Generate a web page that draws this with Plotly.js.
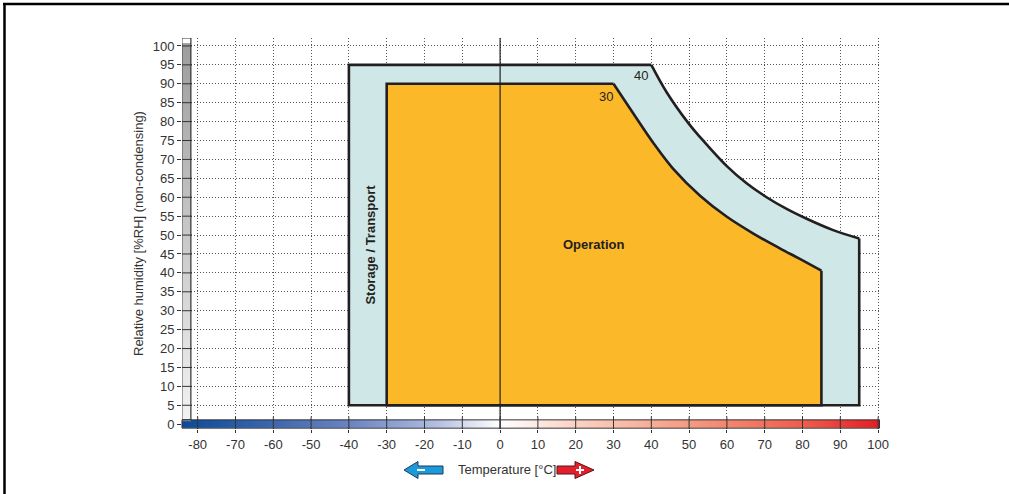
<!DOCTYPE html>
<html>
<head>
<meta charset="utf-8">
<script src="https://cdn.plot.ly/plotly-3.0.1.min.js"></script>
<style>html,body{margin:0;padding:0;background:#fff;}#chart{width:1009px;height:494px;}</style>
</head>
<body>
<div id="chart"></div>
<script>
// ---- data ----
const tempTicks = [-80,-70,-60,-50,-40,-30,-20,-10,0,10,20,30,40,50,60,70,80,90,100];
const rhTicks = [0,5,10,15,20,25,30,35,40,45,50,55,60,65,70,75,80,85,90,95,100];
// Storage / Transport envelope: straight edges then humidity limit curve
const storageEdgeT  = [95,95,-40,-40,40];
const storageEdgeRH = [49.1,5,5,95,95];
const storageCurveT  = [40,44.1,49.8,52.9,59.9,65.2,70.5,75.8,81.1,88.1,95];
const storageCurveRH = [95,87.7,79.6,75.9,68.3,63.7,60.0,56.9,54.3,51.3,49.1];
// Operation envelope
const operationEdgeT  = [85,85,-30,-30,30];
const operationEdgeRH = [40.6,5,5,90,90];
const operationCurveT  = [30,35.2,40.5,45.8,52.9,59.9,67.0,74.0,79.3,85];
const operationCurveRH = [90,82.2,74.4,67.5,60.4,54.9,50.4,46.5,43.7,40.6];
const labels = {storage:"Storage / Transport", operation:"Operation", storageMax:"40", operationMax:"30"};
const xTitle = "Temperature [°C]";
const yTitle = "Relative humidity [%RH] (non-condensing)";

// ---- layout geometry ----
const W=1009,H=494, M={l:182,r:129,t:38,b:65};
const PW=W-M.l-M.r, PH=H-M.t-M.b;
const xRange=[-84.15,100.5], yRange=[-1.27,102.1];
const px=(p)=>(p-M.l)/PW, py=(p)=>1-(p-M.t)/PH;
const FONT="Liberation Sans, Arial, sans-serif";
const INK="#231f20";

// colour bar (temperature gradient) as heatmap
const cbX=[]; for(let t=-84;t<=100;t+=2) cbX.push(t);
const cbZ=[cbX.slice(),cbX.slice()];
const norm=(t)=>(t-xRange[0])/(xRange[1]-xRange[0]);
const tempScale=[[0,"#0b4a9b"],[norm(-60),"#3d67b0"],[norm(-40),"#6a84c2"],[norm(-20),"#a5b4dc"],[norm(0),"#ffffff"],[norm(20),"#fcd2c3"],[norm(50),"#f59a80"],[norm(80),"#ef5d4c"],[1,"#e41b23"]];

// gray humidity bar as heatmap
const gbY=[]; for(let v=2;v<=101.5;v+=2.5) gbY.push(v);
const gbZ=gbY.map(v=>[v,v]);

const fillPoly=(eT,eRH,cT,cRH,color)=>({type:"scatter",mode:"lines",x:eT.concat(cT.slice(1)),y:eRH.concat(cRH.slice(1)),
  fill:"toself",fillcolor:color,line:{width:0,color:color},hoverinfo:"skip"});
const outline=(x,y,shape)=>({type:"scatter",mode:"lines",x:x,y:y,line:{color:INK,width:2.6,shape:shape,smoothing:1},hoverinfo:"skip"});

const traces=[
 {type:"heatmap",x:cbX,y:[-0.5,0.6],z:cbZ,colorscale:tempScale,zmin:xRange[0],zmax:xRange[1],zsmooth:"best",showscale:false,hoverinfo:"skip"},
 {type:"heatmap",x:[-83.6,-82.4],y:gbY,z:gbZ,colorscale:[[0,"#f3f3f3"],[1,"#9c9c9c"]],zmin:0,zmax:102,zsmooth:"best",showscale:false,hoverinfo:"skip"},
 fillPoly(storageEdgeT,storageEdgeRH,storageCurveT,storageCurveRH,"#cfe8e7"),
 outline(storageEdgeT,storageEdgeRH,"linear"),
 outline(storageCurveT,storageCurveRH,"spline"),
 fillPoly(operationEdgeT,operationEdgeRH,operationCurveT,operationCurveRH,"#fbb829"),
 outline(operationEdgeT,operationEdgeRH,"linear"),
 outline(operationCurveT,operationCurveRH,"spline")
];

const shapes=[];
shapes.push({type:"line",xref:"x",yref:"paper",x0:0,x1:0,y0:0,y1:1,line:{color:INK,width:1.2},layer:"above"});
shapes.push({type:"rect",xref:"paper",yref:"y",x0:0,x1:px(879.5),y0:-1.05,y1:1.15,line:{color:"#333",width:1},layer:"above"});
shapes.push({type:"rect",xref:"x",yref:"y",x0:-84.2,x1:-81.8,y0:1.15,y1:yRange[1],line:{color:"#333",width:1.2},layer:"above"});
tempTicks.forEach(t=>shapes.push({type:"line",xref:"x",yref:"y",x0:t,x1:t,y0:yRange[0],y1:2.0,line:{color:"#333",width:1},layer:"above"}));
rhTicks.forEach(v=>{ if(v>0) shapes.push({type:"line",xref:"paper",yref:"y",x0:0,x1:px(192),y0:v,y1:v,line:{color:"#333",width:1},layer:"above"}); });
shapes.push({type:"line",xref:"paper",yref:"paper",x0:px(3),x1:px(1009),y0:py(4),y1:py(4),line:{color:"#000",width:2.5}});
shapes.push({type:"line",xref:"paper",yref:"paper",x0:px(4.5),x1:px(4.5),y0:py(3),y1:py(494),line:{color:"#000",width:2.5}});
const poly=(pts)=>"M"+pts.map(p=>px(p[0])+","+py(p[1])).join(" L")+" Z";
shapes.push({type:"path",xref:"paper",yref:"paper",path:poly([[404,470],[418,461.5],[418,466],[443,466],[443,474],[418,474],[418,478.5]]),fillcolor:"#1b9ad7",line:{color:"#1b3a5c",width:1}});
shapes.push({type:"path",xref:"paper",yref:"paper",path:poly([[557,466],[575,466],[575,461.5],[594,470],[575,478.5],[575,474],[557,474]]),fillcolor:"#e41f2d",line:{color:"#5a1515",width:1}});
shapes.push({type:"line",xref:"paper",yref:"paper",x0:px(417),x1:px(425),y0:py(470),y1:py(470),line:{color:"#fff",width:2}});
shapes.push({type:"line",xref:"paper",yref:"paper",x0:px(576),x1:px(584),y0:py(470),y1:py(470),line:{color:"#fff",width:2}});
shapes.push({type:"line",xref:"paper",yref:"paper",x0:px(580),x1:px(580),y0:py(466),y1:py(474),line:{color:"#fff",width:2}});

const annotations=[
 {x:-34.4,y:47.5,xref:"x",yref:"y",text:"<b>"+labels.storage+"</b>",textangle:-90,showarrow:false,xanchor:"center",yanchor:"middle",font:{family:FONT,size:13,color:INK}},
 {x:24.6,y:47.5,xref:"x",yref:"y",text:"<b>"+labels.operation+"</b>",showarrow:false,xanchor:"center",yanchor:"middle",font:{family:FONT,size:13,color:INK}},
 {x:37.3,y:92.3,xref:"x",yref:"y",text:labels.storageMax,showarrow:false,xanchor:"center",yanchor:"middle",font:{family:FONT,size:13,color:INK}},
 {x:28,y:86.6,xref:"x",yref:"y",text:labels.operationMax,showarrow:false,xanchor:"center",yanchor:"middle",font:{family:FONT,size:13,color:INK}},
 {x:px(507),y:py(470),xref:"paper",yref:"paper",text:xTitle,showarrow:false,xanchor:"center",yanchor:"middle",font:{family:FONT,size:13,color:"#333"}},
 {x:px(138),y:py(234),xref:"paper",yref:"paper",text:yTitle,textangle:-90,showarrow:false,xanchor:"center",yanchor:"middle",font:{family:FONT,size:13,color:"#333"}}
];

const layout={
 width:W,height:H,margin:M,paper_bgcolor:"#fff",plot_bgcolor:"#fff",showlegend:false,hovermode:false,
 font:{family:FONT,size:13,color:"#333"},
 xaxis:{range:xRange,tickvals:tempTicks,ticktext:tempTicks.map(String),ticks:"outside",ticklen:3,tickcolor:"#333",
   showgrid:true,gridcolor:"#555",griddash:"1px,2px",gridwidth:1,zeroline:false,showline:false,fixedrange:true,tickfont:{size:13,color:"#333"}},
 yaxis:{range:yRange,tickvals:rhTicks,ticktext:rhTicks.map(String),ticks:"outside",ticklen:4,tickcolor:"#333",
   showgrid:true,gridcolor:"#555",griddash:"1px,2px",gridwidth:1,zeroline:false,showline:false,fixedrange:true,tickfont:{size:13,color:"#333"}},
 shapes:shapes,annotations:annotations
};
Plotly.newPlot("chart",traces,layout,{displayModeBar:false,staticPlot:true});
</script>
</body>
</html>
